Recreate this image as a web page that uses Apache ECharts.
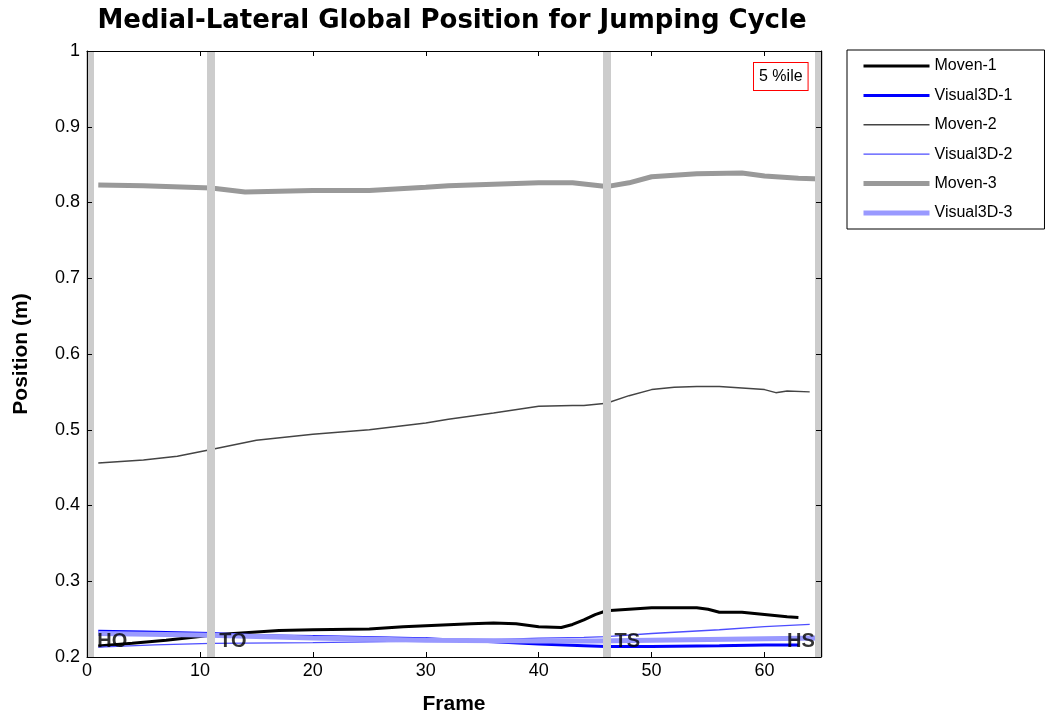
<!DOCTYPE html>
<html>
<head>
<meta charset="utf-8">
<script src="https://cdn.jsdelivr.net/npm/echarts@6/dist/echarts.min.js"></script>
<style>
  html, body { margin: 0; padding: 0; background: #fff; }
  #chart { width: 1046px; height: 721px; }
</style>
</head>
<body>
<div id="chart"></div>
<script>
// frames and values
var moven1Frames = [1, 4, 7, 10, 11, 14, 17, 20, 25, 28, 31, 34, 36, 38, 40, 42, 43, 44, 45, 46, 48, 50, 54, 55, 56, 58, 60, 62, 63];
var moven1 = [0.2145, 0.218, 0.222, 0.227, 0.229, 0.232, 0.235, 0.236, 0.237, 0.240, 0.242, 0.244, 0.245, 0.244, 0.240, 0.239, 0.243, 0.249, 0.256, 0.261, 0.263, 0.265, 0.265, 0.263, 0.259, 0.259, 0.256, 0.253, 0.252];

var visual1Frames = [1, 5, 11, 15, 20, 30, 36, 40, 44, 46, 50, 56, 60, 63];
var visual1 = [0.234, 0.233, 0.231, 0.228, 0.227, 0.224, 0.220, 0.217, 0.215, 0.214, 0.214, 0.215, 0.216, 0.216];

var moven2Frames = [1, 5, 8, 11, 15, 20, 25, 30, 32, 36, 40, 43, 44, 46, 48, 50, 52, 54, 56, 58, 60, 61, 62, 64];
var moven2 = [0.456, 0.460, 0.465, 0.474, 0.486, 0.494, 0.500, 0.509, 0.514, 0.522, 0.531, 0.532, 0.532, 0.535, 0.545, 0.553, 0.556, 0.557, 0.557, 0.555, 0.553, 0.549, 0.551, 0.550];

var visual2Frames = [1, 6, 11, 20, 30, 36, 40, 44, 46, 50, 56, 60, 64];
var visual2 = [0.213, 0.216, 0.218, 0.219, 0.221, 0.223, 0.225, 0.226, 0.227, 0.231, 0.236, 0.240, 0.243];

var moven3Frames = [1, 5, 11, 14, 20, 25, 30, 32, 36, 40, 43, 46, 48, 50, 54, 58, 60, 63, 65];
var moven3 = [0.823, 0.822, 0.819, 0.814, 0.816, 0.816, 0.820, 0.822, 0.824, 0.826, 0.826, 0.821, 0.826, 0.834, 0.838, 0.839, 0.835, 0.832, 0.831];

var visual3Frames = [1, 10, 20, 30, 40, 45, 50, 55, 60, 65];
var visual3 = [0.231, 0.229, 0.225, 0.222, 0.221, 0.221, 0.222, 0.223, 0.224, 0.225];

// gait events
var eventNames = ['HO', 'TO', 'TS', 'HS'];
var eventFrames = [0.2, 11, 46, 64.8];

var xTicks = [0, 10, 20, 30, 40, 50, 60];

var seriesNames = ['Moven-1', 'Visual3D-1', 'Moven-2', 'Visual3D-2', 'Moven-3', 'Visual3D-3'];
var seriesColors = ['#000000', '#0000ff', '#444444', '#4d4dff', '#999999', '#9999ff'];
var seriesWidths = [3, 3, 1.5, 1.3, 5, 5];
var seriesFrames = [moven1Frames, visual1Frames, moven2Frames, visual2Frames, moven3Frames, visual3Frames];
var seriesValues = [moven1, visual1, moven2, visual2, moven3, visual3];

var font = 'Liberation Sans, Arial, Helvetica, sans-serif';

function pairs(fr, vals) {
    return fr.map(function (f, i) { return [f, vals[i]]; });
}

var chart = echarts.init(document.getElementById('chart'));

// event labels sit just right of the line, the last one left of it
var eventLabels = eventNames.map(function (n, i) {
    var last = i === eventNames.length - 1;
    return {
        value: [eventFrames[i], 0.221, n],
        label: { position: last ? 'left' : 'right', distance: last ? 4 : 8 }
    };
});

var dataSeries = seriesNames.map(function (name, i) {
    return {
        name: name,
        type: 'line',
        symbol: 'none',
        z: 3,
        lineStyle: { color: seriesColors[i], width: seriesWidths[i] },
        itemStyle: { color: seriesColors[i] },
        data: pairs(seriesFrames[i], seriesValues[i])
    };
});

var axisBase = {
    type: 'value',
    z: 10,
    axisLine: { onZero: false, lineStyle: { color: '#000', width: 1 } },
    axisTick: { inside: true, length: 5, lineStyle: { color: '#000' } },
    splitLine: { show: false }
};

var option = {
    animation: false,
    backgroundColor: '#fff',
    title: [
        {
            text: 'Medial-Lateral Global Position for Jumping Cycle',
            left: 447,
            textAlign: 'center',
            top: 3,
            textStyle: { fontFamily: 'DejaVu Sans, sans-serif', fontSize: 26, fontWeight: 'bold', color: '#000' }
        },
        {
            text: '{box|5 %ile}',
            left: 754,
            top: 63,
            z: 20,
            padding: 0,
            textStyle: {
                fontWeight: 'normal',
                rich: {
                    box: {
                        fontFamily: font, fontSize: 16, fontWeight: 'normal', color: '#000',
                        borderColor: '#ff0000', borderWidth: 1,
                        backgroundColor: '#fff',
                        padding: [6, 5, 5, 5]
                    }
                }
            }
        }
    ],
    legend: {
        orient: 'vertical',
        left: 847,
        top: 50,
        padding: [8, 32, 8, 14],
        itemWidth: 66,
        itemHeight: 14,
        itemGap: 13.4,
        borderColor: '#000',
        borderWidth: 1,
        textStyle: { fontFamily: font, fontSize: 16, color: '#000' },
        data: seriesNames.map(function (name, i) {
            return {
                name: name,
                itemStyle: { opacity: 0 },
                lineStyle: { color: seriesColors[i], width: seriesWidths[i] }
            };
        })
    },
    grid: {
        left: 87,
        right: 225,
        top: 51,
        bottom: 64,
        outerBoundsMode: 'none'
    },
    xAxis: [
        Object.assign({}, axisBase, {
            min: 0,
            max: 65,
            interval: 10,
            name: 'Frame',
            nameLocation: 'middle',
            nameGap: 37,
            nameTextStyle: { fontFamily: font, fontSize: 21, fontWeight: 'bold', color: '#000' },
            axisLabel: {
                fontFamily: font, fontSize: 18, color: '#000', margin: 5,
                showMaxLabel: false,
                formatter: function (v) { return xTicks.indexOf(v) >= 0 ? String(v) : ''; }
            }
        }),
        Object.assign({}, axisBase, {
            position: 'top',
            min: 0,
            max: 65,
            interval: 10,
            axisLabel: { show: false }
        })
    ],
    yAxis: [
        Object.assign({}, axisBase, {
            min: 0.2,
            max: 1,
            interval: 0.1,
            name: 'Position (m)',
            nameLocation: 'middle',
            nameGap: 55,
            nameTextStyle: { fontFamily: font, fontSize: 21, fontWeight: 'bold', color: '#000' },
            axisLabel: {
                fontFamily: font, fontSize: 18, color: '#000', margin: 7,
                formatter: function (v) { return String(+v.toFixed(1)); }
            }
        }),
        Object.assign({}, axisBase, {
            position: 'right',
            min: 0.2,
            max: 1,
            interval: 0.1,
            axisLabel: { show: false }
        })
    ],
    series: [
        {
            name: 'events',
            type: 'line',
            data: [],
            z: 1,
            silent: true,
            markLine: {
                silent: true,
                symbol: 'none',
                label: { show: false },
                lineStyle: { color: '#cccccc', width: 8, type: 'solid' },
                data: eventFrames.map(function (f) { return { xAxis: f }; })
            }
        }
    ].concat(dataSeries, [
        {
            name: 'eventLabels',
            type: 'scatter',
            symbolSize: 0,
            z: 4,
            silent: true,
            label: {
                show: true,
                fontFamily: font,
                fontSize: 20,
                fontWeight: 'bold',
                color: '#000',
                formatter: function (p) { return p.data.value[2]; }
            },
            data: eventLabels
        }
    ])
};

chart.setOption(option);
</script>
</body>
</html>
